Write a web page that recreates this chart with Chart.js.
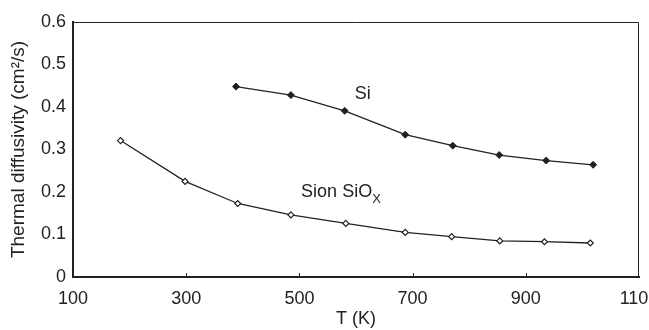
<!DOCTYPE html>
<html>
<head>
<meta charset="utf-8">
<script src="https://cdn.jsdelivr.net/npm/chart.js@4/dist/chart.umd.min.js"></script>
<style>
  html, body { margin: 0; padding: 0; background: #fff; }
  #wrap { width: 649px; height: 330px; }
</style>
</head>
<body>
<div id="wrap"><canvas id="chart" width="649" height="330"></canvas></div>
<script>
// data
const siTemp = [388, 485, 580, 687, 771, 853, 936, 1019];
const siDiff = [0.448, 0.428, 0.391, 0.335, 0.309, 0.287, 0.274, 0.264];
const sionTemp = [184, 298, 391, 485, 582, 687, 769, 854, 933, 1014];
const sionDiff = [0.321, 0.225, 0.173, 0.146, 0.126, 0.105, 0.095, 0.085, 0.083, 0.080];
const xTicks = [100, 300, 500, 700, 900, 1100];
const yTicks = [0, 0.1, 0.2, 0.3, 0.4, 0.5, 0.6];

const ink = '#222';
const font = "'Liberation Sans', Arial, sans-serif";

// frame, inner ticks and series labels
const extras = {
    id: 'extras',
    afterDraw(chart) {
        const { ctx, chartArea: a, scales: { x, y } } = chart;
        ctx.save();
        ctx.strokeStyle = ink;
        ctx.lineWidth = 1;
        ctx.beginPath();
        ctx.moveTo(a.left, a.top + 0.5);
        ctx.lineTo(a.right - 0.5, a.top + 0.5);
        ctx.lineTo(a.right - 0.5, a.bottom);
        ctx.stroke();

        // small ticks pointing into the plot
        xTicks.slice(1, -1).forEach(t => {
            const px = Math.round(x.getPixelForValue(t)) + 0.5;
            ctx.beginPath();
            ctx.moveTo(px, a.bottom);
            ctx.lineTo(px, a.bottom - 4);
            ctx.stroke();
        });

        ctx.fillStyle = ink;
        ctx.textBaseline = 'middle';
        ctx.font = '18px ' + font;
        ctx.textAlign = 'left';
        ctx.fillText('Si', x.getPixelForValue(598), y.getPixelForValue(0.431));

        const sx = x.getPixelForValue(503);
        const sy = y.getPixelForValue(0.199);
        const main = 'Sion SiO';
        ctx.fillText(main, sx, sy);
        const w = ctx.measureText(main).width;
        ctx.font = '13px ' + font;
        ctx.fillText('X', sx + w, sy + 7);
        ctx.restore();
    }
};

new Chart(document.getElementById('chart'), {
    type: 'scatter',
    data: {
        datasets: [
            {
                label: 'Si',
                data: siTemp.map((t, i) => ({ x: t, y: siDiff[i] })),
                showLine: true,
                borderColor: ink,
                borderWidth: 1.3,
                pointStyle: 'rectRot',
                pointRadius: 3.5,
                pointBackgroundColor: ink,
                pointBorderColor: ink,
                pointBorderWidth: 1
            },
            {
                label: 'Sion SiOx',
                data: sionTemp.map((t, i) => ({ x: t, y: sionDiff[i] })),
                showLine: true,
                borderColor: ink,
                borderWidth: 1.3,
                pointStyle: 'rectRot',
                pointRadius: 3,
                pointBackgroundColor: '#fff',
                pointBorderColor: ink,
                pointBorderWidth: 1.2
            }
        ]
    },
    options: {
        responsive: false,
        animation: false,
        layout: { padding: { top: 22, right: 10, left: 0, bottom: 0 } },
        plugins: { legend: { display: false }, tooltip: { enabled: false } },
        scales: {
            x: {
                type: 'linear',
                min: 100,
                max: 1100,
                afterBuildTicks: s => { s.ticks = xTicks.map(v => ({ value: v })); },
                afterFit: s => { s.height = 53; s.paddingLeft = 0; s.paddingRight = 0; },
                grid: { display: false, drawTicks: false },
                border: { display: true, color: ink, width: 2 },
                ticks: {
                    padding: 11,
                    color: ink,
                    font: { family: font, size: 18 },
                    maxRotation: 0,
                    callback: v => String(v)
                },
                title: {
                    display: true,
                    text: 'T (K)',
                    color: ink,
                    font: { family: font, size: 18 },
                    padding: { top: 0, bottom: 0 }
                }
            },
            y: {
                min: 0,
                max: 0.6,
                afterBuildTicks: s => { s.ticks = yTicks.map(v => ({ value: v })); },
                afterFit: s => { s.width = 73; s.paddingTop = 0; s.paddingBottom = 0; },
                grid: { display: false, drawTicks: false },
                border: { display: true, color: ink, width: 2 },
                ticks: {
                    padding: 7,
                    color: ink,
                    font: { family: font, size: 18 },
                    callback: v => (v === 0 ? '0' : v.toFixed(1))
                },
                title: {
                    display: true,
                    text: 'Thermal diffusivity (cm²/s)',
                    color: ink,
                    font: { family: font, size: 19 },
                    padding: { top: 7, bottom: 0 }
                }
            }
        }
    },
    plugins: [extras]
});
</script>
</body>
</html>
